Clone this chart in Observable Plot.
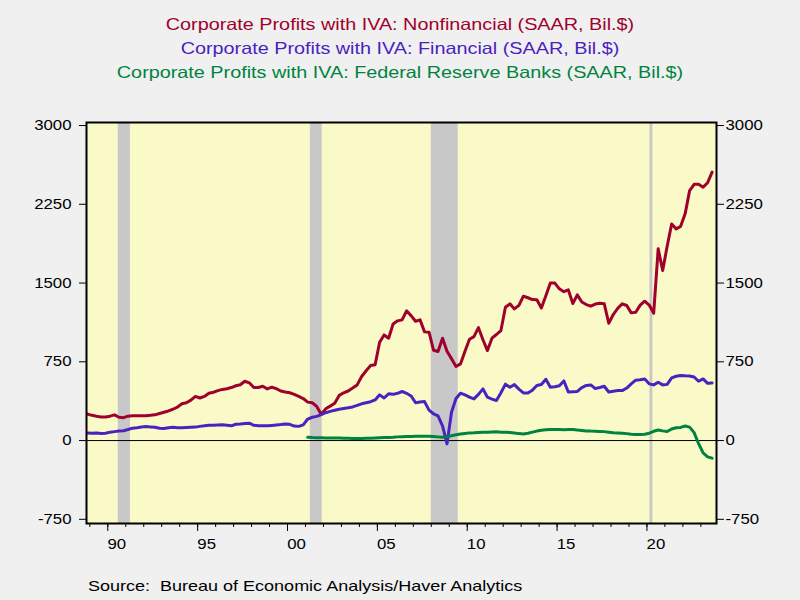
<!DOCTYPE html>
<html><head><meta charset="utf-8">
<script src="https://cdn.jsdelivr.net/npm/d3@7"></script>
<script src="https://cdn.jsdelivr.net/npm/@observablehq/plot@0.6"></script>
<style>
body{margin:0;background:#F0F0F0;font-family:"Liberation Sans",Arial,sans-serif;}
#wrap{position:relative;width:800px;height:600px;overflow:hidden;background:#F0F0F0;}
#chart{position:absolute;left:0;top:0;}
#titles{position:absolute;top:12px;left:0;width:800px;text-align:center;font-size:16.5px;line-height:24px;transform:scaleX(1.2);transform-origin:400px 0;}
#source{position:absolute;left:88px;top:577px;font-size:15px;line-height:18px;color:#000;white-space:pre;transform:scaleX(1.2);transform-origin:0 0;}
</style></head><body>
<div id="wrap">
<div id="chart"></div>
<div id="titles">
<div style="color:#A0002C">Corporate Profits with IVA: Nonfinancial (SAAR, Bil.$)</div>
<div style="color:#4A22C0">Corporate Profits with IVA: Financial (SAAR, Bil.$)</div>
<div style="color:#00833F">Corporate Profits with IVA: Federal Reserve Banks (SAAR, Bil.$)</div>
</div>
<div id="source">Source:  Bureau of Economic Analysis/Haver Analytics</div>
</div>
<script>
// Quarterly data, Nonfinancial & Financial start 1988Q4; Federal Reserve Banks start 2001Q1
const nonfinStart = 1988.875;
const nonfinancial = [252,
 240,232,225,224, 232,245,222,218, 232,236,236,235, 236,240,245,258,
 270,282,298,318, 350,360,385,420, 405,420,450,460, 475,487,494,505,
 522,532,565,550, 505,505,517,492, 508,494,472,462, 455,440,420,400,
 366,360,325,250, 302,328,355,430, 455,472,500,530, 610,665,714,722,
 936,1006,975,1110, 1140,1149,1235,1190, 1136,1149,1035,1032, 860,848,975,850,
 780,705,730,850, 965,990,1075,960, 857,975,1010,1048, 1270,1302,1254,1288,
 1375,1360,1343,1340, 1263,1380,1500,1500, 1445,1418,1435,1305, 1387,1320,1295,1280,
 1300,1308,1302,1117, 1200,1260,1302,1286, 1216,1222,1290,1327, 1290,1213,1826,1619,
 1850,2063,2016,2040, 2159,2381,2440,2440, 2413,2455,2556];
const financial = [72,
 70,72,68,70, 80,85,90,94, 105,118,122,128, 133,130,127,118,
 114,122,127,123, 121,124,127,128, 135,140,146,146, 148,150,145,140,
 155,158,162,165, 145,142,140,140, 144,148,152,157, 155,138,135,150,
 205,222,230,248, 265,278,288,298, 305,312,320,335, 350,360,370,387,
 435,405,445,440, 450,467,450,425, 360,368,371,290, 255,235,140,-32,
 270,400,451,435, 413,397,440,492, 413,395,381,455, 537,508,533,490,
 454,452,480,524, 533,584,508,512, 522,568,462,465, 468,505,525,530,
 495,505,517,462, 470,476,476,500, 540,575,580,587, 540,530,556,530,
 535,597,612,620, 617,615,605,565, 587,545,549];
const fedStart = 2001.125;
const federalReserve = [
 31,28,27,26, 25,25,24,24, 22,21,20,20, 20,21,22,24,
 26,28,30,32, 35,37,38,39, 40,41,41,40, 38,35,32,35,
 45,55,62,68, 73,74,76,78, 80,82,83,80, 80,77,72,66,
 63,70,80,90, 98,103,105,105, 105,104,105,106, 100,96,92,90,
 89,87,85,80, 75,73,70,66, 60,57,58,60, 70,88,100,92,
 86,110,122,125, 138,128,75,-30, -118,-155,-168];
const recessionStart = [1990.58, 2001.27, 2008.0, 2020.17];
const recessionEnd   = [1991.26, 2001.93, 2009.5, 2020.33];
const yTicks = [-750, 0, 750, 1500, 2250, 3000];
const minorYears = d3.range(1989, 2024);
const majorYears = [1990, 1995, 2000, 2005, 2010, 2015, 2020];
const yearLabels = ["90","95","00","05","10","15","20"];

const toRows = (arr, start) => arr.map((v, i) => ({t: start + i * 0.25, v}));
const nfRows = toRows(nonfinancial, nonfinStart);
const finRows = toRows(financial, nonfinStart);
const fedRows = toRows(federalReserve, fedStart);
const recessions = recessionStart.map((s, i) => ({s, e: recessionEnd[i]}));

const chart = Plot.plot({
  width: 800, height: 600,
  marginTop: 122, marginBottom: 77, marginLeft: 86, marginRight: 84,
  style: {background: "transparent", fontFamily: "'Liberation Sans', Arial, sans-serif", fontSize: "14px", color: "#000"},
  x: {domain: [1988.815, 2023.87]},
  y: {domain: [-790, 3029]},
  marks: [
    Plot.frame({fill: "#FAFAC8"}),
    Plot.rect(recessions, {x1: "s", x2: "e", fill: "#C8C8C8"}),
    Plot.ruleY([0], {stroke: "#000", strokeWidth: 1}),
    Plot.line(nfRows, {x: "t", y: "v", stroke: "#A0002C", strokeWidth: 3}),
    Plot.line(finRows, {x: "t", y: "v", stroke: "#4A22C0", strokeWidth: 3}),
    Plot.line(fedRows, {x: "t", y: "v", stroke: "#00833F", strokeWidth: 3}),
    Plot.frame({stroke: "#000", strokeWidth: 2}),
    Plot.axisY({anchor: "left", ticks: yTicks, tickSize: 7, tickPadding: 8, label: null, tickFormat: d => String(d)}),
    Plot.axisY({anchor: "right", ticks: yTicks, tickSize: 7, tickPadding: 2, label: null, tickFormat: d => String(d)}),
    Plot.axisX({ticks: minorYears, tickSize: 4, label: null, tickFormat: () => ""}),
    Plot.axisX({ticks: majorYears, tickSize: 8, label: null, tickFormat: () => ""}),
    Plot.axisX({ticks: majorYears.map(y => y + 0.5), tickSize: 0, tickPadding: 16, label: null,
      tickFormat: d => yearLabels[majorYears.indexOf(Math.round(d - 0.5))]})
  ]
});
document.getElementById("chart").appendChild(chart);
// widen tick labels horizontally to match the reference's stretched lettering
d3.select(chart).selectAll("text").each(function() {
  if (!this.textContent) return;
  const len = this.getComputedTextLength();
  if (len > 0) {
    this.setAttribute("textLength", (len * 1.2).toFixed(2));
    this.setAttribute("lengthAdjust", "spacingAndGlyphs");
  }
});
</script>
</body></html>
